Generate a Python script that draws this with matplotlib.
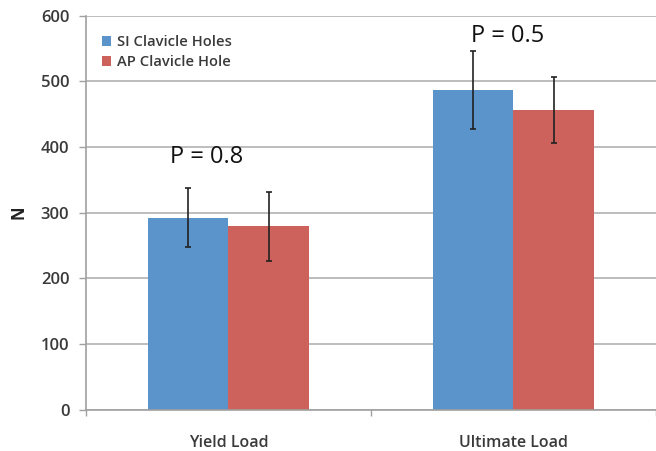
import matplotlib
matplotlib.use("Agg")
import matplotlib.pyplot as plt
import numpy as np

categories = ["Yield Load", "Ultimate Load"]
series_names = ["SI Clavicle Holes", "AP Clavicle Hole"]
si_values = [292, 487]
ap_values = [279, 456]
si_err = [45, 60]
ap_err = [52, 50]
p_labels = ["P = 0.8", "P = 0.5"]
y_ticks = [0, 100, 200, 300, 400, 500, 600]

plt.rcParams['font.family'] = ['Open Sans', 'DejaVu Sans']

fig = plt.figure(figsize=(6.56, 4.51), dpi=100)
ax = fig.add_axes([0.131, 0.092, 0.869, 0.873])

x = np.arange(len(categories))
w = 0.284
blue = "#5b93cb"
red = "#cd625c"
ax.bar(x - w / 2, si_values, width=w, color=blue, label=series_names[0], zorder=2)
ax.bar(x + w / 2, ap_values, width=w, color=red, label=series_names[1], zorder=2)
ax.errorbar(x - w / 2, si_values, yerr=si_err, fmt='none', ecolor='#222222',
            elinewidth=1.2, capsize=2.5, capthick=1.2, zorder=3)
ax.errorbar(x + w / 2, ap_values, yerr=ap_err, fmt='none', ecolor='#222222',
            elinewidth=1.2, capsize=2.5, capthick=1.2, zorder=3)

# P value annotations
ax.text(x[0] - 0.075, 385, p_labels[0], ha='center', va='center', fontsize=17, color='#111111')
ax.text(x[1] - 0.02, 569, p_labels[1], ha='center', va='center', fontsize=17, color='#111111')

ax.set_xlim(-0.5, 1.5)
ax.set_ylim(0, 600)
ax.set_yticks(y_ticks)
ax.set_yticklabels([str(t) for t in y_ticks], fontsize=12, fontweight='semibold', color='#3a3a3a')
ax.yaxis.grid(True, color='#b8b8b8', linewidth=1.3, zorder=0)
ax.set_axisbelow(True)

ax.set_xticks([-0.5, 0.5, 1.5])
ax.set_xticklabels(["", "", ""])
ax.tick_params(axis='x', direction='out', length=4, color='#a0a0a0', width=1)
ax.tick_params(axis='y', direction='out', length=5, color='#a0a0a0', width=1, pad=7)
for i, c in enumerate(categories):
    ax.text(x[i], -0.065, c, transform=ax.get_xaxis_transform(), ha='center', va='top',
            fontsize=11.5, fontweight='semibold', color='#3a3a3a')

for s in ['top', 'right']:
    ax.spines[s].set_visible(False)
for s in ['left', 'bottom']:
    ax.spines[s].set_color('#a0a0a0')
    ax.spines[s].set_linewidth(1.2)

ax.set_ylabel("N", fontsize=12, fontweight='bold', color='#222222')
ax.yaxis.set_label_coords(-0.102, 0.5)

leg = ax.legend(loc='upper left', bbox_to_anchor=(0.005, 0.985), frameon=False,
                handlelength=0.6, handleheight=0.7, handletextpad=0.4,
                labelspacing=0.4, prop={'size': 10.6, 'weight': 'semibold'})
for t in leg.get_texts():
    t.set_color('#3a3a3a')

fig.savefig("out.png", dpi=100)
